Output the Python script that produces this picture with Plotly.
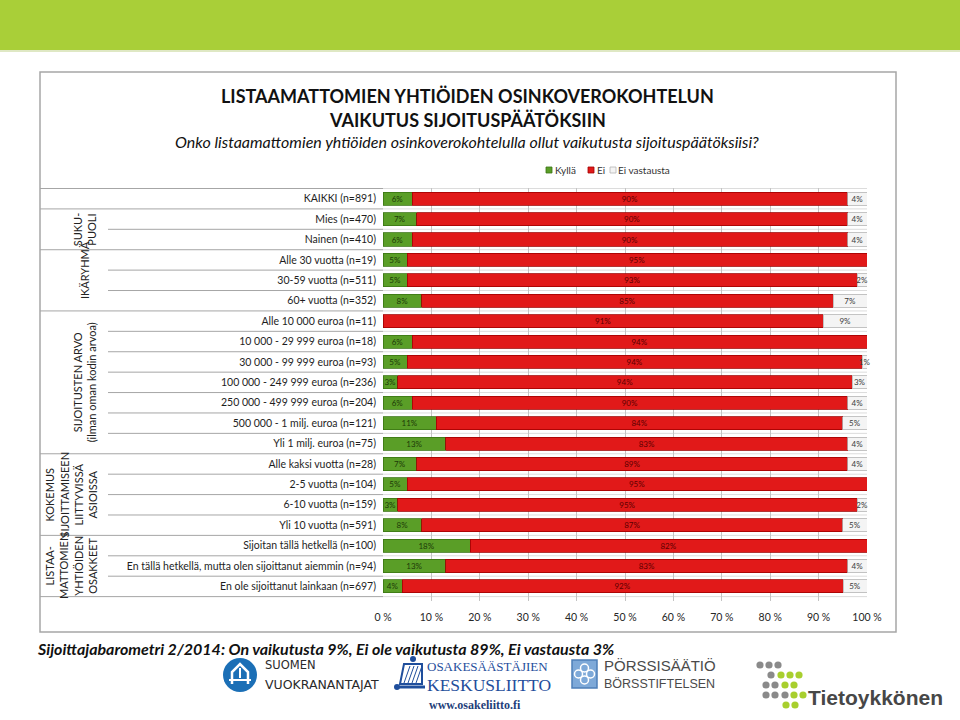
import plotly.graph_objects as go

# ---------------- data ----------------
categories = [
    "KAIKKI (n=891)",
    "Mies (n=470)",
    "Nainen (n=410)",
    "Alle 30 vuotta (n=19)",
    "30-59 vuotta (n=511)",
    "60+ vuotta (n=352)",
    "Alle 10 000 euroa (n=11)",
    "10 000 - 29 999 euroa (n=18)",
    "30 000 - 99 999 euroa (n=93)",
    "100 000 - 249 999 euroa (n=236)",
    "250 000 - 499 999 euroa (n=204)",
    "500 000 - 1 milj. euroa (n=121)",
    "Yli 1 milj. euroa (n=75)",
    "Alle kaksi vuotta (n=28)",
    "2-5 vuotta (n=104)",
    "6-10 vuotta (n=159)",
    "Yli 10 vuotta (n=591)",
    "Sijoitan tällä hetkellä (n=100)",
    "En tällä hetkellä, mutta olen sijoittanut aiemmin (n=94)",
    "En ole sijoittanut lainkaan (n=697)",
]
kylla = [6, 7, 6, 5, 5, 8, 0, 6, 5, 3, 6, 11, 13, 7, 5, 3, 8, 18, 13, 4]
ei = [90, 90, 90, 95, 93, 85, 91, 94, 94, 94, 90, 84, 83, 89, 95, 95, 87, 82, 83, 92]
ei_vastausta = [4, 4, 4, 0, 2, 7, 9, 0, 1, 3, 4, 5, 4, 4, 0, 2, 5, 0, 4, 5]
series_names = ["Kyllä", "Ei", "Ei vastausta"]
x_ticks = [0, 10, 20, 30, 40, 50, 60, 70, 80, 90, 100]
x_ticklabels = ["0 %", "10 %", "20 %", "30 %", "40 %", "50 %", "60 %", "70 %", "80 %", "90 %", "100 %"]

# group labels: (text, first row index, last row index)
group_labels = [
    ("SUKU-<br>PUOLI", 1, 2),
    ("IKÄRYHMÄ", 3, 5),
    ("SIJOITUSTEN ARVO<br>(ilman oman kodin arvoa)", 6, 12),
    ("KOKEMUS<br>SIJOITTAMISEEN<br>LIITTYVISSÄ<br>ASIOISSA", 13, 16),
    ("LISTAA-<br>MATTOMIEN<br>YHTIÖIDEN<br>OSAKKEET", 17, 19),
]
group_starts = [0, 1, 3, 6, 13, 17]

title_line1 = "LISTAAMATTOMIEN YHTIÖIDEN OSINKOVEROKOHTELUN"
title_line2 = "VAIKUTUS SIJOITUSPÄÄTÖKSIIN"
subtitle = "Onko listaamattomien yhtiöiden osinkoverokohtelulla ollut vaikutusta sijoituspäätöksiisi?"
footer = "Sijoittajabarometri 2/2014: On vaikutusta 9%, Ei ole vaikutusta 89%, Ei vastausta 3%"

# ---------------- helpers (pixel -> paper) ----------------
W, H = 960, 720


def X(px):
    return px / W


def Y(py):
    return 1 - py / H


def path_px(points, close=False):
    s = "M " + " L ".join(f"{X(a):.5f},{Y(b):.5f}" for a, b in points)
    return s + (" Z" if close else "")


FONT = "Lato, 'Open Sans', sans-serif"
PLOT_L, PLOT_R = 383, 867
PLOT_T, PLOT_B = 188, 601

fig = go.Figure()

colors = ["#5a9e27", "#e11919", "#f4f4f4"]
lines = ["#3b7514", "#a10000", "#b5b5b5"]
txtcol = ["#1d3a08", "#5c0000", "#3a3a3a"]
for name, vals, c, lc, tc in zip(series_names, [kylla, ei, ei_vastausta], colors, lines, txtcol):
    fig.add_trace(go.Bar(
        y=categories, x=vals, name=name, orientation="h",
        marker=dict(color=c, line=dict(color=lc, width=0.8)),
        text=[f"{v}%" if v > 0 else "" for v in vals],
        texttemplate="%{text}", textposition="inside", insidetextanchor="middle", textangle=0,
        textfont=dict(size=8, color=tc, family=FONT), cliponaxis=False,
        hoverinfo="skip", showlegend=False,
    ))

fig.update_layout(
    width=W, height=H, autosize=False,
    margin=dict(l=0, r=0, t=0, b=0, pad=0, autoexpand=False),
    paper_bgcolor="white", plot_bgcolor="white",
    barmode="stack", barnorm="percent", bargap=0.36,
    uniformtext=dict(minsize=8, mode="show"),
    font=dict(family=FONT, color="#262626"),
    showlegend=False,
    xaxis=dict(domain=[X(PLOT_L), X(PLOT_R)], range=[0, 100], tickvals=x_ticks, ticktext=x_ticklabels,
               showgrid=True, gridcolor="#c4c4c4", gridwidth=1, zeroline=False, automargin=False,
               tickfont=dict(size=10.5, family=FONT, color="#262626"), ticks="", ticklabelstandoff=8,
               fixedrange=True),
    yaxis=dict(domain=[Y(PLOT_B), Y(PLOT_T)], autorange="reversed", type="category", automargin=False,
               tickfont=dict(size=10.5, family=FONT, color="#1e1e1e"), ticks="", ticklabelstandoff=6,
               showgrid=False, showline=False, fixedrange=True),
)

shapes = []
# top green band
shapes.append(dict(type="rect", xref="paper", yref="paper", x0=0, x1=1, y0=Y(50), y1=1,
                   fillcolor="#a9cf38", line=dict(width=0), layer="below"))
shapes.append(dict(type="line", xref="paper", yref="paper", x0=0, x1=1, y0=Y(51), y1=Y(51),
                   line=dict(color="#dfe8c4", width=2), layer="below"))
# frame
shapes.append(dict(type="rect", xref="paper", yref="paper", x0=X(40), x1=X(896), y0=Y(632), y1=Y(72),
                   fillcolor="rgba(0,0,0,0)", line=dict(color="#a6a6a6", width=1.5), layer="below"))
# row separators
n = len(categories)
for k in range(n + 1):
    yv = k - 0.5
    is_group = (k in group_starts) or k == n
    shapes.append(dict(type="line", xref="paper", yref="y", x0=X(40 if is_group else 108), x1=X(PLOT_L),
                       y0=yv, y1=yv, line=dict(color="#a6a6a6", width=1)))
    shapes.append(dict(type="line", xref="paper", yref="y", x0=X(PLOT_L), x1=X(PLOT_R),
                       y0=yv, y1=yv, line=dict(color="#dcdcdc", width=1), layer="below"))

# manual compact legend
legend_pos = [(546, 553), (588, 595), (610, 616)]
for (sx, tx), c, lc, name in zip(legend_pos, colors, lines, series_names):
    shapes.append(dict(type="rect", xref="paper", yref="paper", x0=X(sx), x1=X(sx + 6),
                       y0=Y(173), y1=Y(167), fillcolor=c, line=dict(color=lc, width=0.8)))

# --- logos (decorative approximations) ---
# Suomen Vuokranantajat
shapes.append(dict(type="circle", xref="paper", yref="paper", x0=X(223), x1=X(257), y0=Y(692), y1=Y(658),
                   fillcolor="#1b6fb6", line=dict(width=0)))
shapes.append(dict(type="path", xref="paper", yref="paper",
                   path=path_px([(232, 684), (232, 672), (240, 664), (248, 672), (248, 684)]),
                   line=dict(color="white", width=2.5)))
shapes.append(dict(type="path", xref="paper", yref="paper",
                   path=path_px([(229, 680), (251, 680)]), line=dict(color="white", width=2)))
shapes.append(dict(type="path", xref="paper", yref="paper",
                   path=path_px([(240, 668), (240, 678)]), line=dict(color="white", width=2)))
# Osakesäästäjien keskusliitto loom icon
shapes.append(dict(type="path", xref="paper", yref="paper",
                   path=path_px([(400, 684), (404, 664), (422, 664), (422, 684)], close=True),
                   line=dict(color="#1f4e9c", width=2), fillcolor="rgba(0,0,0,0)"))
for dx in range(0, 15, 4):
    shapes.append(dict(type="line", xref="paper", yref="paper", x0=X(404 + dx), x1=X(410 + dx),
                       y0=Y(683), y1=Y(666), line=dict(color="#1f4e9c", width=1)))
shapes.append(dict(type="line", xref="paper", yref="paper", x0=X(396), x1=X(425), y0=Y(687), y1=Y(687),
                   line=dict(color="#1f4e9c", width=3)))
shapes.append(dict(type="circle", xref="paper", yref="paper", x0=X(394), x1=X(400), y0=Y(690), y1=Y(684),
                   fillcolor="#1f4e9c", line=dict(width=0)))
shapes.append(dict(type="circle", xref="paper", yref="paper", x0=X(410), x1=X(416), y0=Y(662), y1=Y(656),
                   fillcolor="#1f4e9c", line=dict(width=0)))
# Pörssisäätiö icon
shapes.append(dict(type="rect", xref="paper", yref="paper", x0=X(572), x1=X(597), y0=Y(688), y1=Y(660),
                   fillcolor="#7ea9d8", line=dict(color="#4d7fb8", width=1.5)))
for cx, cy in [(584.5, 668), (584.5, 680), (578.5, 674), (590.5, 674)]:
    shapes.append(dict(type="circle", xref="paper", yref="paper", x0=X(cx - 4), x1=X(cx + 4),
                       y0=Y(cy + 4), y1=Y(cy - 4), fillcolor="rgba(0,0,0,0)",
                       line=dict(color="white", width=1.5)))
# Tietoykkönen dots
dot_spec = [
    (760, 665, "g"), (769, 665, "g"), (778, 665, "g"),
    (771, 675, "g"), (781, 675, "l"), (790, 675, "l"), (799, 675, "l"),
    (766, 685, "g"), (775, 685, "g"), (785, 685, "l"), (794, 685, "l"),
    (766, 695, "g"), (775, 695, "g"), (785, 695, "g"), (794, 695, "l"), (803, 695, "l"),
    (786, 705, "l"), (795, 705, "l"),
]
for cx, cy, cc in dot_spec:
    shapes.append(dict(type="circle", xref="paper", yref="paper", x0=X(cx - 3.6), x1=X(cx + 3.6),
                       y0=Y(cy + 3.6), y1=Y(cy - 3.6),
                       fillcolor="#8a8a8a" if cc == "g" else "#a8cf2e", line=dict(width=0)))
fig.update_layout(shapes=shapes)

ann = []


def label(text, px, py, size, family=FONT, color="#111", xanchor="center", **kw):
    ann.append(dict(text=text, x=X(px), y=Y(py), xref="paper", yref="paper", xanchor=xanchor,
                    yanchor="middle", showarrow=False, font=dict(size=size, family=family, color=color), **kw))


# titles
label(f"<b>{title_line1}</b>", 467, 96, 18)
label(f"<b>{title_line2}</b>", 467, 120, 18)
label(f"<i>{subtitle}</i>", 467, 142, 16)
# legend texts
for (sx, tx), name in zip(legend_pos, series_names):
    label(name, tx, 170, 10, color="#333", xanchor="left")
# group labels
for txt, a, b in group_labels:
    nlines = txt.count("<br>") + 1
    xc = 84 if nlines <= 2 else 71
    yc = (a + b) / 2 - (0.5 if txt == "IKÄRYHMÄ" else 0)
    ann.append(dict(text=txt, x=X(xc), y=yc, xref="paper", yref="y", xanchor="center", yanchor="middle",
                    showarrow=False, textangle=-90, align="center",
                    font=dict(size=11, family=FONT, color="#222")))
# footer
label(f"<b><i>{footer}</i></b>", 35, 648, 16, xanchor="left")
# logo texts
label("SUOMEN", 263, 665, 11.5, family="DejaVu Sans", color="#2a2a2a", xanchor="left")
label("VUOKRANANTAJAT", 263, 684, 12.5, family="DejaVu Sans", color="#2a2a2a", xanchor="left")
label("OSAKESÄÄSTÄJIEN", 425, 666, 13, family="Liberation Serif", color="#1f4e9c", xanchor="left")
label("KESKUSLIITTO", 425, 685, 17.5, family="Liberation Serif", color="#1f4e9c", xanchor="left")
label("<b>www.osakeliitto.fi</b>", 475, 705, 12, family="Liberation Serif", color="#1f3f7a")
label("PÖRSSISÄÄTIÖ", 602, 665, 15, family="Liberation Sans", color="#4a4a4a", xanchor="left")
label("BÖRSSTIFTELSEN", 602, 684, 12.5, family="Liberation Sans", color="#4a4a4a", xanchor="left")
label("<b>Tietoykkönen</b>", 806, 697, 21, family="Liberation Sans", color="#474747", xanchor="left")
fig.update_layout(annotations=ann)

fig.write_html("out.html", config={"displayModeBar": False, "responsive": False},
               post_script="document.body.style.margin='0';document.body.style.padding='0';"
                           "document.body.style.overflow='hidden';")
